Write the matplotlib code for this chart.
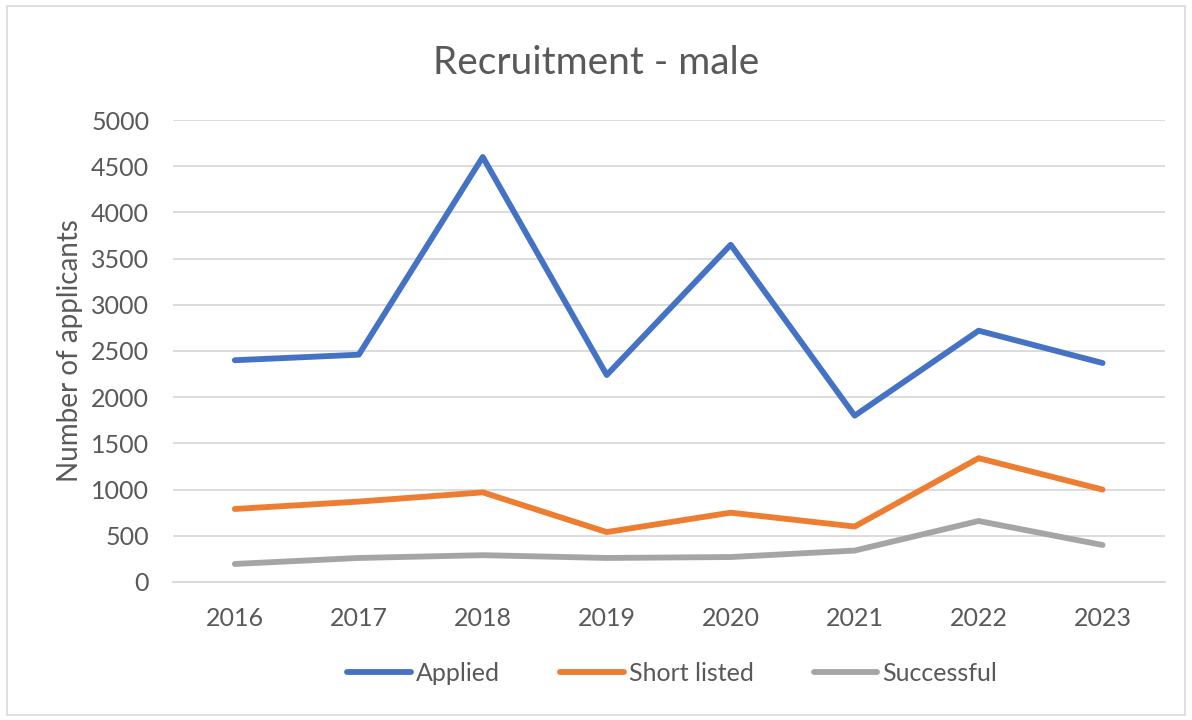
import matplotlib
matplotlib.use("Agg")
import matplotlib.pyplot as plt
from matplotlib.patches import Rectangle

years = ['2016', '2017', '2018', '2019', '2020', '2021', '2022', '2023']
applied = [2400, 2460, 4600, 2240, 3650, 1800, 2720, 2370]
short_listed = [790, 870, 970, 540, 750, 600, 1340, 1000]
successful = [195, 260, 290, 260, 270, 340, 660, 400]

plt.rcParams['font.family'] = ['Lato', 'DejaVu Sans']
txt = '#595959'

fig = plt.figure(figsize=(11.92, 7.2), dpi=100)
ax = fig.add_axes([0.145, 0.1917, 0.832, 0.6416])

x = range(len(years))
ax.plot(x, applied, color='#4472C4', lw=4.2, label='Applied', solid_capstyle='round', solid_joinstyle='round')
ax.plot(x, short_listed, color='#ED7D31', lw=4.2, label='Short listed', solid_capstyle='round', solid_joinstyle='round')
ax.plot(x, successful, color='#A5A5A5', lw=4.2, label='Successful', solid_capstyle='round', solid_joinstyle='round')

ax.set_xlim(-0.5, 7.5)
ax.set_ylim(0, 5000)
ax.set_yticks(range(0, 5001, 500))
ax.set_xticks(list(x))
ax.set_xticklabels(years)
ax.grid(axis='y', color='#D9D9D9', lw=1.3)
ax.set_axisbelow(True)
for s in ['top', 'right', 'left']:
    ax.spines[s].set_visible(False)
ax.spines['bottom'].set_color('#D9D9D9')
ax.spines['bottom'].set_linewidth(1.3)
ax.tick_params(length=0, labelsize=18, colors=txt)
ax.tick_params(axis='y', pad=17)
ax.tick_params(axis='x', pad=18)

ax.set_ylabel('Number of applicants', fontsize=20, color=txt, labelpad=6)
fig.text(0.5, 0.912, 'Recruitment - male', ha='center', va='center', fontsize=28, color=txt)

fig.legend(loc='center', bbox_to_anchor=(0.564, 0.065), ncol=3, frameon=False,
           fontsize=18, labelcolor=txt, handlelength=2.55, columnspacing=2.4, handletextpad=0.2)

fig.patches.append(Rectangle((0.006, 0.007), 0.988, 0.985, transform=fig.transFigure,
                             fill=False, edgecolor='#D9D9D9', lw=1.2))

plt.savefig('out.png', dpi=100)
